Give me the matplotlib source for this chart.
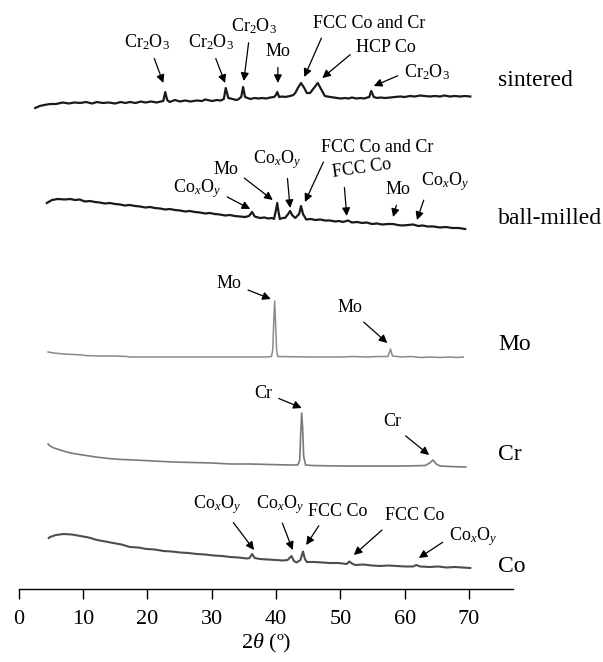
import matplotlib.pyplot as plt

plt.rcParams['font.family'] = ['Liberation Serif', 'DejaVu Serif']
plt.rcParams['mathtext.fontset'] = 'custom'
plt.rcParams['mathtext.rm'] = 'Liberation Serif'
plt.rcParams['mathtext.it'] = 'Liberation Serif:italic'

# XRD patterns (2theta in degrees, intensity in arbitrary units)
sintered = [(2.6, 1), (3.3, 3), (4.0, 4), (4.9, 5), (5.8, 5), (6.9, 6.5), (7.8, 5.5), (8.7, 6.5),
            (9.6, 6), (10.5, 7), (11.4, 5.5), (12.2, 7), (13.1, 6), (14.0, 6.5), (15.0, 5.5),
            (15.9, 7), (16.6, 6), (17.3, 7), (18.2, 6), (19.0, 7.5), (19.7, 6.5), (20.6, 7.5),
            (21.5, 6.5), (22.1, 7.5), (22.5, 8), (22.8, 17), (23.1, 9), (23.5, 7), (24.3, 9),
            (25.1, 7.5), (25.9, 8.5), (26.7, 7.5), (27.7, 8.5), (28.5, 8), (29.0, 9.5), (30.1, 8),
            (30.8, 9), (31.4, 8.5), (31.9, 10), (32.2, 21), (32.6, 11), (33.3, 10), (33.8, 9),
            (34.1, 9.5), (34.6, 12), (34.9, 22), (35.2, 12), (36.0, 10), (36.7, 11), (37.3, 10.5),
            (37.8, 11), (38.5, 10.5), (39.1, 11.5), (39.7, 12), (40.0, 14), (40.2, 17), (40.5, 12),
            (41.0, 12.5), (41.4, 12), (42.2, 13), (42.7, 14), (43.0, 16), (43.4, 21), (43.9, 26),
            (44.4, 21), (44.8, 16), (45.3, 16), (45.9, 21), (46.5, 26), (47.0, 20), (47.6, 13),
            (48.4, 12), (49.0, 11.5), (49.5, 11), (50.1, 10.5), (50.7, 11), (51.3, 10.5),
            (51.8, 11.5), (52.5, 10.5), (53.1, 11), (53.7, 10.5), (54.2, 11.5), (54.5, 12),
            (54.8, 18), (55.2, 12), (55.7, 11), (56.2, 11.5), (57.0, 11), (57.7, 11.5), (58.5, 12),
            (59.3, 12.5), (60.0, 12), (60.8, 13), (61.6, 12.5), (62.4, 13.5), (63.1, 13),
            (63.9, 12.5), (64.7, 13), (65.5, 12.5), (66.2, 13.5), (67.0, 12.5), (67.8, 13),
            (68.6, 12.5), (69.4, 13), (70.2, 12.5)]

ball_milled = [(4.4, 27), (5.2, 30), (6.1, 31), (7.2, 30.5), (8.0, 31), (8.8, 30), (9.5, 30.5),
               (10.3, 28.5), (11.1, 29), (11.9, 28), (12.6, 27.5), (13.4, 26.5), (14.2, 27),
               (15.0, 26), (15.8, 25.5), (16.5, 24.5), (17.3, 25), (18.1, 24), (18.9, 23.5),
               (19.7, 22.5), (20.4, 23), (21.2, 22), (22.0, 21.5), (22.8, 20.5), (23.5, 21),
               (24.3, 20), (25.1, 19.5), (25.9, 18.5), (26.6, 19), (27.4, 18), (28.2, 17.5),
               (29.0, 16.5), (29.7, 17), (30.5, 16), (31.3, 15.5), (32.1, 14.5), (32.8, 15),
               (33.6, 14), (34.4, 13.5), (35.2, 13), (35.8, 14), (36.3, 18), (36.7, 13.5),
               (37.5, 12), (38.2, 12.5), (38.8, 11.5), (39.4, 12), (39.7, 11), (40.0, 20),
               (40.2, 27), (40.35, 20), (40.6, 11), (41.0, 12), (41.4, 12), (41.9, 16), (42.2, 19),
               (42.5, 15), (43.0, 12), (43.6, 16), (43.9, 24), (44.2, 16), (44.7, 10.5),
               (45.4, 11), (46.1, 10), (46.9, 10.5), (47.6, 9.5), (48.4, 9.5), (49.2, 8.5),
               (49.8, 9), (50.4, 8), (51.2, 9.5), (51.8, 7.5), (52.6, 8), (53.4, 7), (54.1, 7.5),
               (54.9, 6), (55.7, 6.5), (56.5, 5.5), (57.4, 6), (58.2, 6), (58.9, 5), (59.6, 4.5),
               (60.5, 5), (61.3, 5.5), (62.1, 4), (62.8, 4.5), (63.6, 3.5), (64.5, 3.5), (65.5, 2.5),
               (66.4, 3), (67.4, 2), (68.4, 2), (69.4, 1)]

mo = [(4.6, 6), (5.5, 5), (7.0, 4), (8.5, 3.5), (10.0, 3), (10.3, 2.5), (12.5, 2), (15.0, 2),
      (16.9, 1.5), (17.2, 1), (25.0, 1), (33.0, 1), (38.5, 1), (39.3, 1.5), (39.5, 8),
      (39.65, 35), (39.8, 57), (39.95, 33), (40.1, 8), (40.3, 1.5), (45.0, 1), (50.0, 1),
      (52.0, 1.5), (54.0, 1), (56.0, 1.5), (57.4, 1.5), (57.8, 9), (58.1, 2), (59.5, 1),
      (61.0, 1.5), (62.5, 0.5), (64.0, 1), (65.5, 0.5), (67.0, 1), (68.0, 0.5), (69.1, 1)]

cr = [(4.6, 24), (4.9, 22), (5.5, 20), (6.5, 18), (7.5, 16), (8.5, 14.5), (10.0, 13), (12.0, 11),
      (14.0, 9.5), (16.0, 8.5), (18.0, 8), (21.0, 7), (24.0, 6), (27.0, 5.5), (30.0, 5),
      (33.0, 4), (36.0, 4), (39.0, 3.5), (42.0, 3), (43.4, 3), (43.7, 8), (43.85, 35),
      (44.0, 55), (44.15, 40), (44.3, 12), (44.6, 3), (45.5, 2.5), (50.0, 2), (55.0, 2),
      (60.0, 2), (63.2, 2.5), (63.9, 5), (64.4, 8), (64.9, 4), (65.5, 2), (67.0, 1.5), (69.5, 1)]

co = [(4.7, 30), (4.9, 31), (5.8, 33), (7.0, 34), (8.3, 33.5), (9.6, 32), (10.9, 30.5),
      (12.2, 28), (13.5, 26.5), (14.7, 25), (16.0, 23.5), (17.3, 21), (18.6, 20.5), (19.9, 19),
      (21.2, 18.5), (22.5, 17), (23.8, 16.5), (25.1, 15.5), (26.4, 15), (27.7, 14), (29.0, 13.5),
      (30.3, 12.5), (31.6, 12), (32.9, 11), (34.2, 10.5), (35.5, 9.5), (35.9, 10), (36.3, 14),
      (36.7, 10), (37.5, 9), (38.7, 8.5), (40.0, 8), (41.1, 7.5), (41.8, 8), (42.4, 12),
      (42.8, 7), (43.2, 5.5), (43.8, 8), (44.2, 16.5), (44.5, 9), (44.8, 6), (46.0, 6),
      (47.2, 5.5), (48.4, 5), (49.7, 5), (51.0, 4), (51.4, 6.5), (51.8, 4.5), (52.3, 3),
      (53.6, 3.5), (54.9, 2.5), (56.2, 2), (57.5, 2.5), (58.8, 2), (60.1, 1.5), (61.3, 1.5),
      (61.8, 3), (62.4, 1.5), (63.9, 1), (65.2, 1.5), (66.5, 0.5), (67.8, 1), (69.0, 0.5),
      (70.2, 0)]

patterns = [sintered, ball_milled, mo, cr, co]
names = ['sintered', 'ball-milled', 'Mo', 'Cr', 'Co']
offsets = [480, 359, 231, 121, 21]
colors = ['#1a1a1a', '#1a1a1a', '#8a8a8a', '#7a7a7a', '#4d4d4d']
widths = [1.6, 1.6, 1.1, 1.2, 1.5]
label_y = [509, 371, 245, 134, 23]

cr2o3 = 'Cr$_2$O$_3$'
coxoy = 'Co$_x$O$_y$'

# (text, text position, arrow tip, rotation, arrow start on the text box)
peak_labels = [
    (cr2o3, (20.0, 547), (22.5, 506), 0, (0.6, 0)),
    (cr2o3, (29.9, 547), (32.1, 506), 0, (0.55, 0)),
    (cr2o3, (36.6, 563), (35.0, 508), 0, (0.4, 0)),
    ('Mo', (40.3, 537), (40.3, 506), 0, (0.5, 0)),
    ('FCC Co and Cr', (54.5, 566), (44.4, 512), 0, (0.1, 0)),
    ('HCP Co', (57.1, 541), (47.2, 511), 0, (0, 0.4)),
    (cr2o3, (63.5, 517), (55.2, 503), 0, (0, 0.45)),
    (coxoy, (27.7, 400), (36.0, 380), 0, (1, 0.3)),
    ('Mo', (32.2, 419), (39.5, 389), 0, (1, 0.3)),
    (coxoy, (40.2, 429), (42.2, 381), 0, (0.7, 0)),
    ('FCC Co and Cr', (55.7, 442), (44.5, 387), 0, (0.05, 0)),
    ('FCC Co', (53.4, 421), (51.0, 373), 8, (0.2, 0)),
    ('Mo', (59.0, 399), (58.2, 372), 0, (0.5, 0)),
    (coxoy, (66.3, 407), (61.9, 369), 0, (0.1, 0)),
    ('Mo', (32.7, 305), (39.2, 290), 0, (1, 0.3)),
    ('Mo', (51.5, 281), (57.3, 246), 0, (0.8, 0)),
    ('Cr', (38.0, 195), (44.0, 181), 0, (1, 0.4)),
    ('Cr', (58.0, 167), (63.8, 134), 0, (0.9, 0)),
    (coxoy, (30.8, 84), (36.6, 39), 0, (0.75, 0)),
    (coxoy, (40.6, 84), (42.6, 39), 0, (0.5, 0)),
    ('FCC Co', (49.6, 78), (44.7, 44), 0, (0.25, 0)),
    ('FCC Co', (61.6, 73), (52.1, 34), 0, (0.05, 0)),
    (coxoy, (70.6, 52), (62.2, 31), 0, (0, 0.45)),
]

fig = plt.figure(figsize=(6.03, 6.62), dpi=100)
ax = fig.add_axes([18.5 / 603, 73 / 662, 494.5 / 603, 589 / 662])

for pat, off, c, lw in zip(patterns, offsets, colors, widths):
    tt = [p[0] for p in pat]
    inten = [p[1] + off for p in pat]
    ax.plot(tt, inten, color=c, lw=lw, clip_on=False)

for name, y in zip(names, label_y):
    ax.text(74.5, y, name, fontsize=17, ha='left', va='center')

for txt, xytext, xy, rot, rp in peak_labels:
    ax.annotate(txt, xy=xy, xytext=xytext, fontsize=13, ha='center', va='center',
                rotation=rot,
                arrowprops=dict(arrowstyle='-|>', color='black', lw=0.9, relpos=rp,
                                mutation_scale=12, shrinkA=3, shrinkB=0))

ax.set_xlim(0, 76.83)
ax.set_ylim(0, 589)
for s in ['left', 'right', 'top']:
    ax.spines[s].set_visible(False)
ax.spines['bottom'].set_linewidth(1.0)
ax.set_yticks([])
ax.set_xticks(range(0, 71, 10))
ax.tick_params(axis='x', direction='out', length=7, width=1, pad=8, labelsize=16)
ax.set_xlabel(r'2$\mathit{\theta}$ (º)', fontsize=16, labelpad=2)

fig.savefig('out.png', dpi=100)
